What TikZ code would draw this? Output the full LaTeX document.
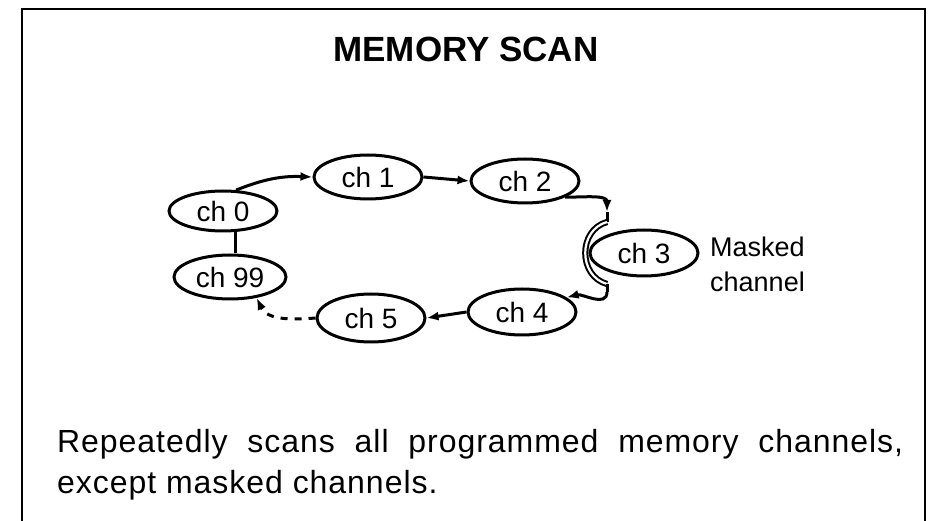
\documentclass[tikz,border=0pt]{standalone}
\usepackage{fontspec}
\setmainfont{Liberation Sans}
\newfontfamily\bodyfont[LetterSpace=3]{Liberation Sans}
\usetikzlibrary{shapes.geometric,arrows.meta}
\tikzset{
  chan/.style={ellipse, draw, line width=3pt, minimum width=108pt, minimum height=44pt,
    inner sep=0pt, font=\fontsize{28}{30}\selectfont},
  conn/.style={line width=3pt},
  tip/.style={-{Latex[length=12pt,width=9pt]}},
  frameline/.style={line width=1.8pt},
}
\begin{document}
\begin{tikzpicture}[x=1pt,y=-1pt]
\useasboundingbox (0,0) rectangle (932,521);
% frame
\coordinate (f1) at (22,521);
\coordinate (f2) at (22,9);
\coordinate (f3) at (925,9);
\coordinate (f4) at (925,521);
\draw[frameline] (f1) -- (f2) -- (f3) -- (f4);
% title
\node[anchor=base, font=\bfseries\fontsize{35}{38}\selectfont, inner sep=0pt] (title) at (466,62) {MEMORY SCAN};
% channels
\node[chan, minimum height=40pt] (ch0) at (223,211) {ch 0};
\node[chan] (ch1) at (368,177) {ch 1};
\node[chan] (ch2) at (525,181) {ch 2};
\node[chan, minimum height=46pt] (ch3) at (644,253) {ch 3};
\node[chan, minimum height=46pt] (ch4) at (522,312) {ch 4};
\node[chan, minimum height=48pt] (ch5) at (371,318) {ch 5};
\node[chan, minimum width=112pt] (ch99) at (230,277) {ch 99};
\node[anchor=base west, align=left, inner sep=0pt, font=\fontsize{27}{35}\selectfont] (mask) at (710,292) {Masked\\channel};
% connectors
\draw[conn, tip] (ch0.58) to[bend left=12] (ch1.west);
\draw[conn, tip] (ch1.east) -- (ch2.west);
\coordinate (a1) at (607,212);
\coordinate (b1) at (607,222);
\coordinate (b2) at (607,284);
\coordinate (b3) at (607,292);
\draw[conn, tip] (ch2.-22) to[out=0,in=90] (a1);
\draw[conn] (a1) -- (b1);
\draw[line width=2pt, double, double distance=2.2pt] (b1) .. controls (578,230) and (578,276) .. (b2);
\draw[conn] (b2) -- (b3);
\draw[conn, tip] (b3) to[out=-90,in=15] (ch4.18);
\draw[conn, tip] (ch4.west) -- (ch5.east);
\draw[conn, tip, dash pattern=on 7pt off 7pt] (ch5.west) to[out=185,in=-65] (ch99.-38);
\draw[conn] (ch0.-60) -- (ch0.-60 |- ch99.north);
% bottom text
\node[anchor=base west, text width=846pt, align=justify, inner sep=0pt,
  font=\bodyfont\fontsize{32}{41}\selectfont] (desc) at (57,452)
  {Repeatedly scans all programmed memory channels,\linebreak except masked channels.};
\end{tikzpicture}
\end{document}
